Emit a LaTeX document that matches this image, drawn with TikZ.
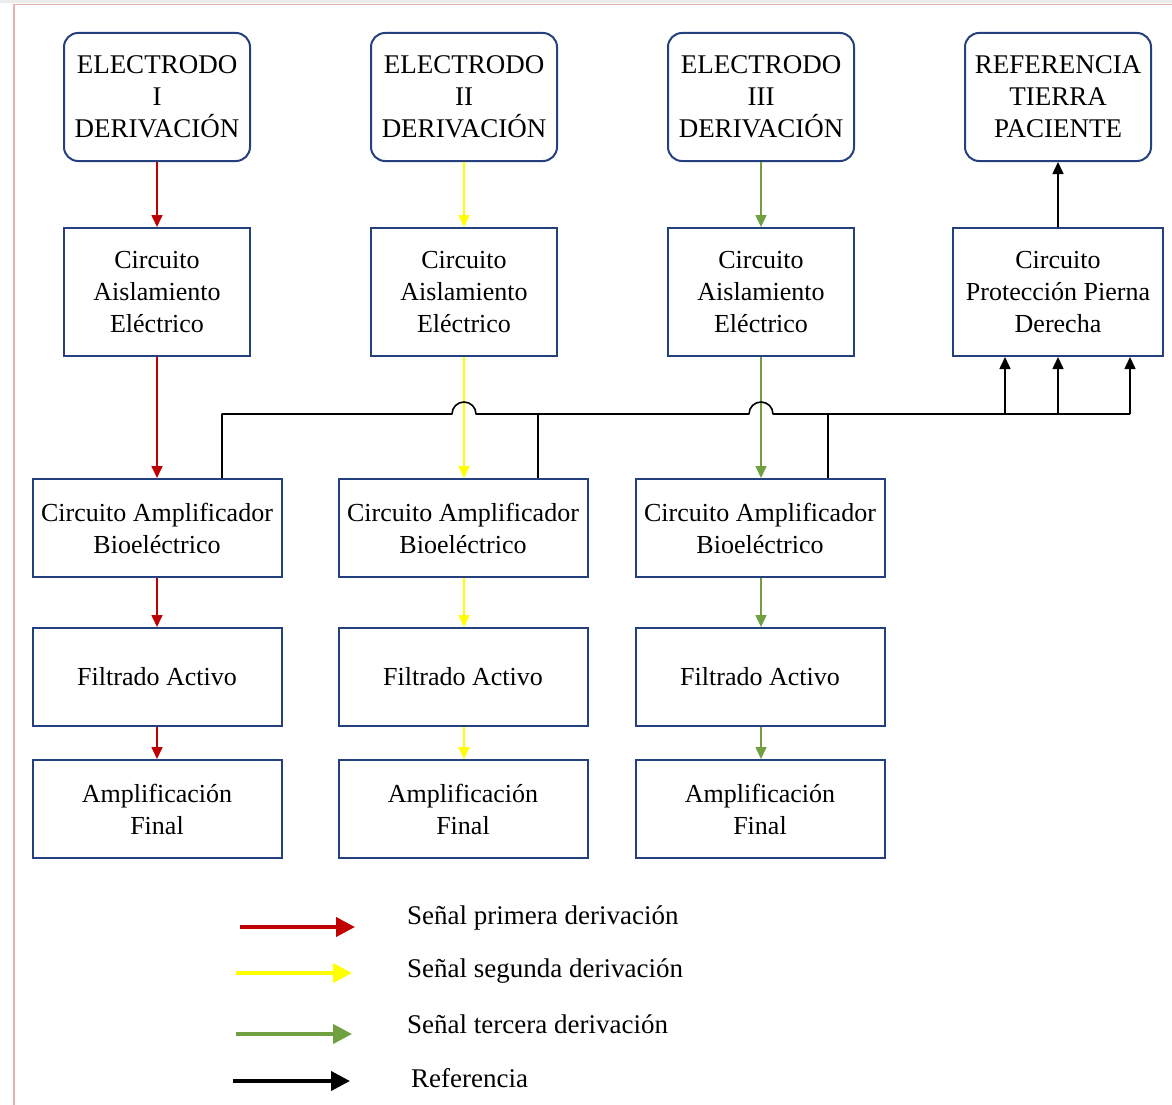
\documentclass[tikz,border=0pt]{standalone}
\usepackage{fontspec}
\setmainfont{Liberation Serif}
\usetikzlibrary{arrows.meta}
\definecolor{boxblue}{HTML}{24407E}
\definecolor{sigred}{HTML}{C00000}
\definecolor{sigyel}{HTML}{FFFF00}
\definecolor{siggrn}{HTML}{70A040}
\definecolor{frpink}{HTML}{E8B0B0}
\tikzset{
  base/.style={draw=boxblue, line width=2pt, fill=white, align=center, inner sep=0pt,
    font=\fontsize{26}{32}\selectfont},
  rbox/.style={base, rounded corners=14pt, minimum width=186pt, minimum height=128pt,
    font=\fontsize{27}{32}\selectfont},
  cbox/.style={base, minimum width=186pt, minimum height=128pt},
  wbox/.style={base, minimum width=249pt, minimum height=98pt},
  conn/.style={line width=1.6pt, -{Triangle[width=11pt,length=12pt]}},
  wire/.style={line width=1.6pt, black},
  legarrow/.style={line width=4pt, -{Triangle[width=19pt,length=19pt]}},
  legtext/.style={anchor=west, inner sep=0pt, font=\fontsize{27}{32}\selectfont}
}
\begin{document}
\begin{tikzpicture}[x=1pt,y=-1pt]
\useasboundingbox (0,0) rectangle (1172,1105);
% frame
\fill[gray!15] (0,0) rectangle (1172,3);
\draw[frpink, line width=1.5pt] (14,4.5) -- (1172,4.5);
\draw[frpink, line width=2pt] (14,4.5) -- (14,1105);
% row 1
\node[rbox] (e1) at (157,97) {ELECTRODO\\I\\DERIVACIÓN};
\node[rbox] (e2) at (464,97) {ELECTRODO\\II\\DERIVACIÓN};
\node[rbox] (e3) at (761,97) {ELECTRODO\\III\\DERIVACIÓN};
\node[rbox] (e4) at (1058,97) {REFERENCIA\\TIERRA\\PACIENTE};
% row 2
\node[cbox] (c1) at (157,292) {Circuito\\Aislamiento\\Eléctrico};
\node[cbox] (c2) at (464,292) {Circuito\\Aislamiento\\Eléctrico};
\node[cbox] (c3) at (761,292) {Circuito\\Aislamiento\\Eléctrico};
\node[cbox, minimum width=210pt] (p) at (1058,292) {Circuito\\Protección Pierna\\Derecha};
% row 3
\node[wbox] (a1) at (157,528) {Circuito Amplificador\\Bioeléctrico};
\node[wbox] (a2) at (463,528) {Circuito Amplificador\\Bioeléctrico};
\node[wbox] (a3) at (760,528) {Circuito Amplificador\\Bioeléctrico};
% row 4
\node[wbox] (f1) at (157,677) {Filtrado Activo};
\node[wbox] (f2) at (463,677) {Filtrado Activo};
\node[wbox] (f3) at (760,677) {Filtrado Activo};
% row 5
\node[wbox] (m1) at (157,809) {Amplificación\\Final};
\node[wbox] (m2) at (463,809) {Amplificación\\Final};
\node[wbox] (m3) at (760,809) {Amplificación\\Final};
% signal arrows
\foreach \e/\c/\a/\f/\m/\col in {e1/c1/a1/f1/m1/sigred, e2/c2/a2/f2/m2/sigyel, e3/c3/a3/f3/m3/siggrn}{
  \draw[conn, \col] (\e.south) -- (\c.north);
  \draw[conn, \col] (\c.south) -- (\c.south |- \a.north);
  \draw[conn, \col] (\c.south |- \a.south) -- (\c.south |- \f.north);
  \draw[conn, \col] (\c.south |- \f.south) -- (\c.south |- \m.north);
}
% reference wiring
\coordinate (j1) at (222,414);
\coordinate (j2) at (538,414);
\coordinate (j3) at (828,414);
\coordinate (jr) at (1130,414);
\coordinate (k1) at (1005,414);
\coordinate (k2) at (1058,414);
\draw[wire, line join=round] (j1 |- a1.north) -- (j1) -- (452,414) arc[start angle=180, end angle=0, radius=12pt]
   -- (749,414) arc[start angle=180, end angle=0, radius=12pt] -- (jr);
\draw[wire] (j2 |- a2.north) -- (j2);
\draw[wire] (j3 |- a3.north) -- (j3);
\draw[conn] (jr) -- (jr |- p.south);
\draw[conn] (k1) -- (k1 |- p.south);
\draw[conn] (k2) -- (k2 |- p.south);
\draw[conn] (p.north) -- (e4.south);
% legend
\coordinate (l1s) at (240,927); \coordinate (l1e) at (355,927);
\coordinate (l2s) at (236,973); \coordinate (l2e) at (352,973);
\coordinate (l3s) at (236,1034); \coordinate (l3e) at (352,1034);
\coordinate (l4s) at (233,1081); \coordinate (l4e) at (350,1081);
\draw[legarrow, sigred] (l1s) -- (l1e);
\draw[legarrow, sigyel] (l2s) -- (l2e);
\draw[legarrow, siggrn] (l3s) -- (l3e);
\draw[legarrow, black] (l4s) -- (l4e);
\node[legtext] (t1) at (407,918) {Señal primera derivación};
\node[legtext] (t2) at (407,971) {Señal segunda derivación};
\node[legtext] (t3) at (407,1024) {Señal tercera derivación};
\node[legtext] (t4) at (411,1078) {Referencia};
\end{tikzpicture}
\end{document}
